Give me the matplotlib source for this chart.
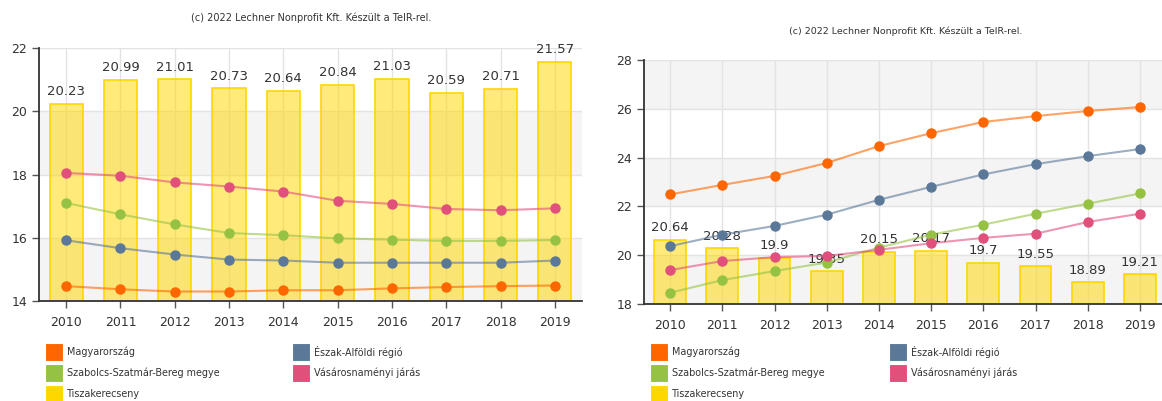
#!/usr/bin/env python3

import matplotlib.pyplot as plt
from matplotlib.patches import Rectangle

# Data
years = ['2010', '2011', '2012', '2013', '2014', '2015', '2016', '2017', '2018', '2019']
series_names = ['Magyarország', 'Észak-Alföldi régió', 'Szabolcs-Szatmár-Bereg megye',
                'Vásárosnaményi járás', 'Tiszakerecseny']

# left chart
left_hu = [14.47, 14.37, 14.30, 14.30, 14.34, 14.34, 14.40, 14.44, 14.47, 14.49]
left_region = [15.92, 15.67, 15.47, 15.31, 15.28, 15.21, 15.21, 15.21, 15.21, 15.28]
left_county = [17.10, 16.74, 16.42, 16.15, 16.08, 15.98, 15.94, 15.90, 15.90, 15.93]
left_district = [18.05, 17.96, 17.75, 17.62, 17.46, 17.17, 17.07, 16.91, 16.87, 16.93]
left_town = [20.23, 20.99, 21.01, 20.73, 20.64, 20.84, 21.03, 20.59, 20.71, 21.57]

# right chart
right_hu = [22.49, 22.88, 23.25, 23.78, 24.47, 25.00, 25.46, 25.70, 25.91, 26.07]
right_region = [20.37, 20.84, 21.20, 21.66, 22.27, 22.80, 23.31, 23.73, 24.06, 24.35]
right_county = [18.46, 18.98, 19.35, 19.70, 20.31, 20.84, 21.25, 21.70, 22.11, 22.53]
right_district = [19.39, 19.76, 19.92, 19.97, 20.22, 20.49, 20.71, 20.88, 21.36, 21.70]
right_town = [20.64, 20.28, 19.9, 19.35, 20.15, 20.17, 19.7, 19.55, 18.89, 19.21]
right_town_labels = ['20.64', '20.28', '19.9', '19.35', '20.15', '20.17', '19.7', '19.55', '18.89', '19.21']

colors = ['#ff6600', '#5b7899', '#96c243', '#e0507b', '#ffd700']
TXT = '#333333'
W, H = 1162, 401
credit = '(c) 2022 Lechner Nonprofit Kft. Készült a TeIR-rel.'

plt.rcParams['font.family'] = ['DejaVu Sans']

fig = plt.figure(figsize=(W / 100, H / 100), dpi=100)


def px_rect(l, t, r, b):
    return [l / W, 1 - b / H, (r - l) / W, (b - t) / H]


def draw_chart(ax, lines, bars, bar_labels, ymin, ymax, gray_from):
    x = list(range(len(years)))
    ax.set_xlim(-0.5, len(years) - 0.5)
    ax.set_ylim(ymin, ymax)

    # alternating background bands
    for y0 in range(ymin, ymax, 2):
        if (y0 - gray_from) % 4 == 0:
            ax.axhspan(y0, y0 + 2, color='#f4f4f4', zorder=0, lw=0)
    ax.grid(True, color='#e3e3e3', linewidth=1, zorder=0.5)
    ax.set_axisbelow(True)

    ax.bar(x, bars, width=0.61, color='#ffd700', alpha=0.52,
           edgecolor='none', zorder=1)
    ax.bar(x, bars, width=0.61, fill=False, edgecolor='#ffd700', linewidth=1.2, zorder=1.1)
    for xi, v, lab in zip(x, bars, bar_labels):
        ax.annotate(lab, (xi, v), xytext=(0, 4), textcoords='offset points',
                    ha='center', va='bottom', fontsize=9.5, color=TXT, zorder=3)

    for vals, c in zip(lines, colors[:4]):
        ax.plot(x, vals, color=c, linewidth=1.5, alpha=0.6, zorder=4)
        ax.plot(x, vals, 'o', color=c, markersize=6.5, zorder=5)

    ax.set_xticks(x)
    ax.set_xticklabels(years)
    ax.set_yticks(range(ymin, ymax + 1, 2))
    ax.tick_params(axis='both', colors='#555555', labelcolor=TXT, labelsize=9,
                   length=5, width=1)
    ax.tick_params(axis='x', pad=6)
    for s in ['top', 'right']:
        ax.spines[s].set_visible(False)
    for s in ['left', 'bottom']:
        ax.spines[s].set_color('#333333')
        ax.spines[s].set_linewidth(1.3)


def draw_legend(col1_x, col2_x):
    rows = [352, 373, 394]
    pos = [(col1_x, rows[0]), (col2_x, rows[0]), (col1_x, rows[1]), (col2_x, rows[1]),
           (col1_x, rows[2])]
    for (lx, ly), name, c in zip(pos, series_names, colors):
        fig.patches.append(Rectangle((lx / W, 1 - (ly + 9) / H), 18 / W, 18 / H,
                                     transform=fig.transFigure, facecolor=c,
                                     edgecolor='white', linewidth=0.8))
        fig.text((lx + 22) / W, 1 - ly / H, name, fontsize=6.9, color=TXT,
                 ha='left', va='center')


ax1 = fig.add_axes(px_rect(39, 48, 582, 301))
draw_chart(ax1, [left_hu, left_region, left_county, left_district], left_town,
           [f'{v:.2f}' for v in left_town], 14, 22, 14)
fig.text(311 / W, 1 - 18 / H, credit, fontsize=7, color=TXT, ha='center', va='center')
draw_legend(45, 292)

ax2 = fig.add_axes(px_rect(644, 60, 1166, 304))
draw_chart(ax2, [right_hu, right_region, right_county, right_district], right_town,
           right_town_labels, 18, 28, 18)
fig.text(906 / W, 1 - 31 / H, credit, fontsize=6.8, color=TXT, ha='center', va='center')
draw_legend(650, 889)

fig.savefig('out.png', dpi=100)
